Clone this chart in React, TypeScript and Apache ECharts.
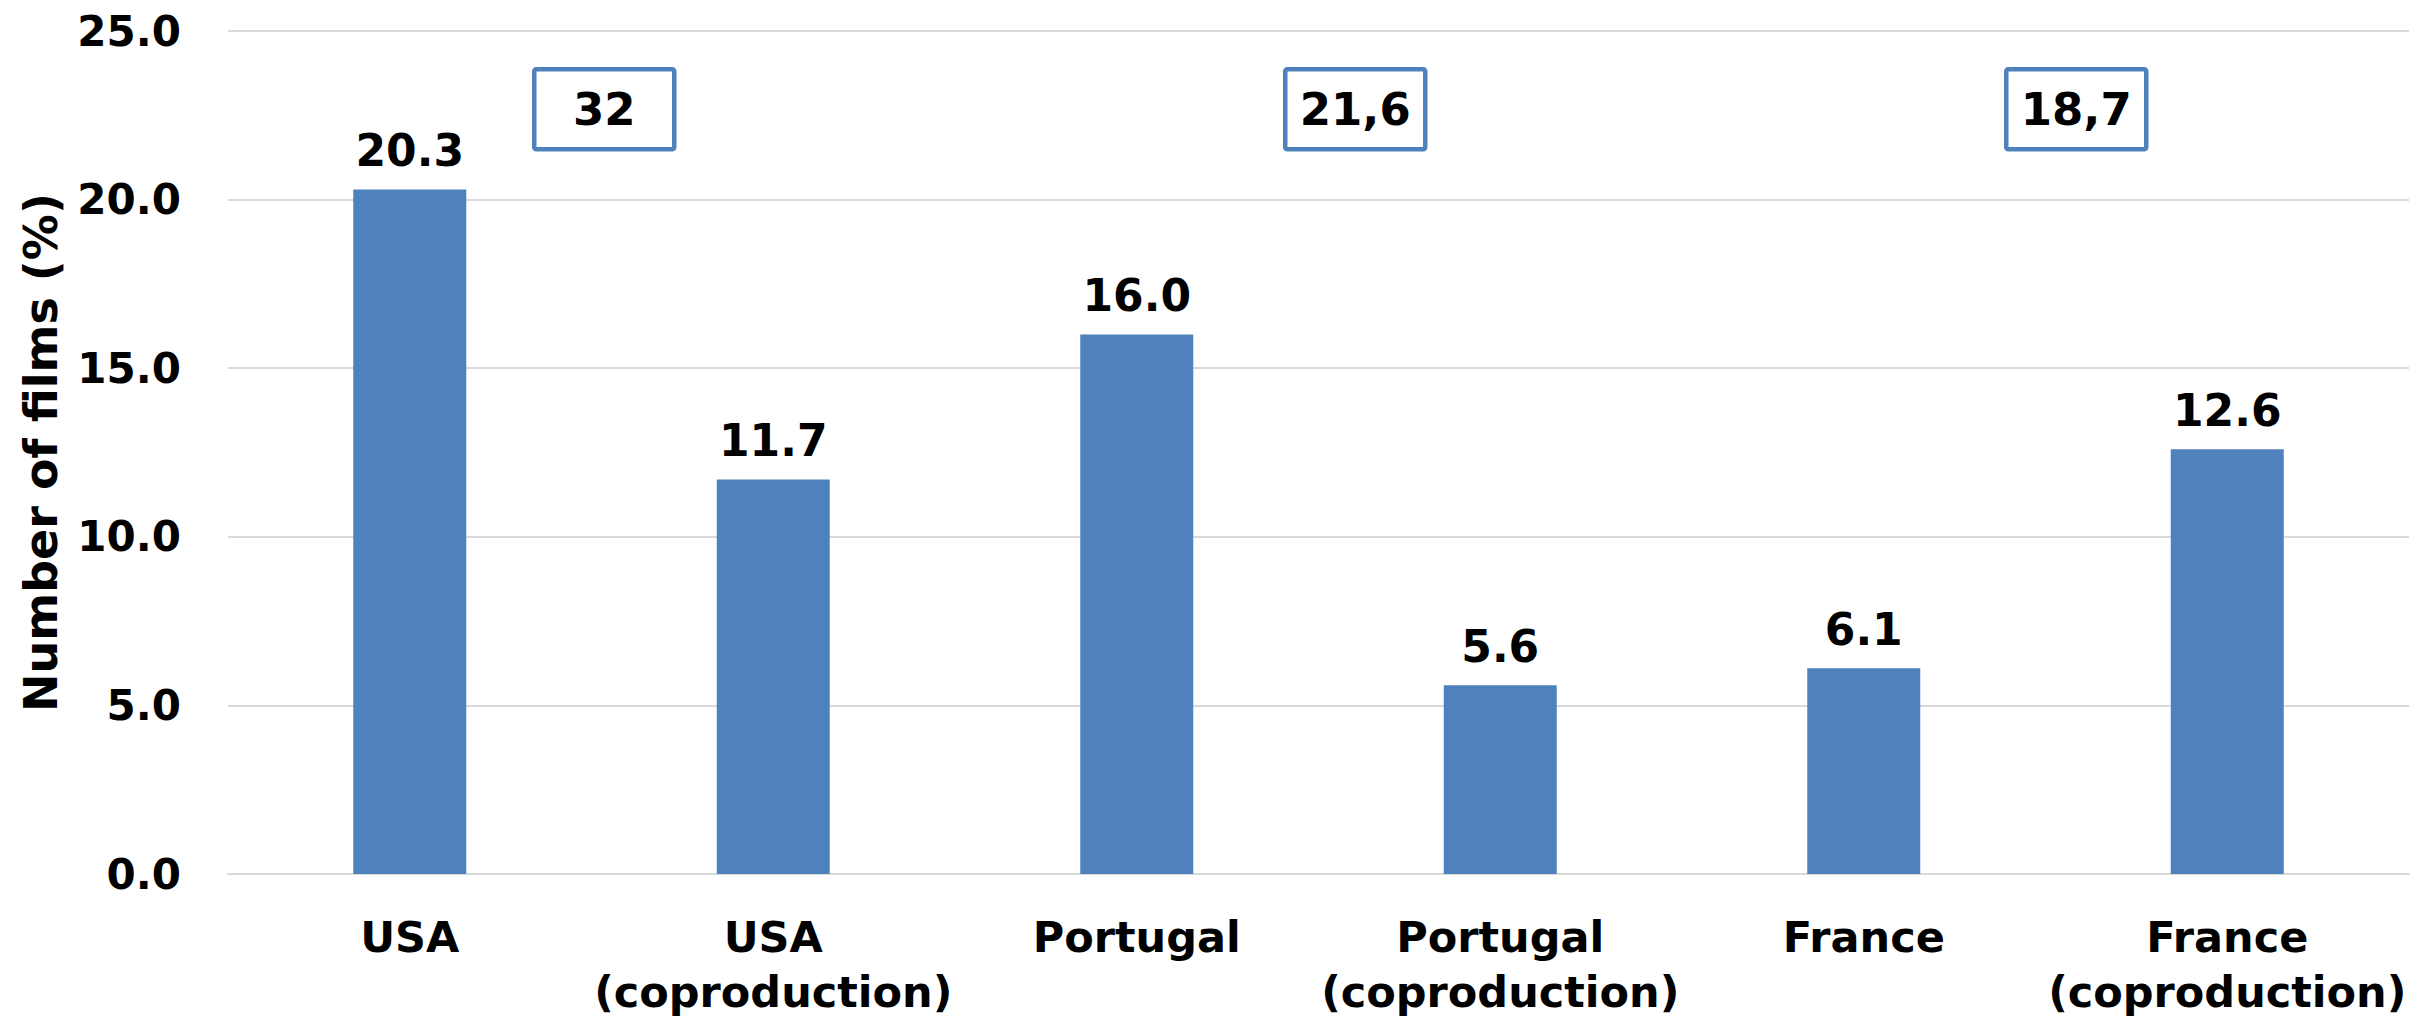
import React, { useEffect, useRef } from "react";
import * as echarts from "echarts";

// Share of films by country of production (%)
const categories: string[] = [
  "USA",
  "USA\n(coproduction)",
  "Portugal",
  "Portugal\n(coproduction)",
  "France",
  "France\n(coproduction)",
];
const filmShares: number[] = [20.3, 11.7, 16.0, 5.6, 6.1, 12.6];

// Combined totals per country, shown in outlined boxes
const totalLabels: string[] = ["32", "21,6", "18,7"];
const totalBoxLeft: number[] = [532, 1283, 2004];

const yTicks = { min: 0, max: 25, interval: 5 };

const FONT = "'DejaVu Sans', sans-serif";
const BLUE = "#4F81BD";

export default function App() {
  const ref = useRef<HTMLDivElement>(null);

  useEffect(() => {
    document.body.style.margin = "0";
    if (!ref.current) return;
    const chart = echarts.init(ref.current, null, { renderer: "svg" });

    const boxW = 140;
    const boxH = 80;
    const boxTop = 67;

    chart.setOption({
      animation: false,
      backgroundColor: "#ffffff",
      grid: { left: 228, right: 23, top: 31, bottom: 143, containLabel: false },
      xAxis: {
        type: "category",
        data: categories,
        axisLine: { show: true, lineStyle: { color: "#D9D9D9", width: 2 } },
        axisTick: { show: false },
        axisLabel: {
          color: "#000",
          fontFamily: FONT,
          fontWeight: "bold",
          fontSize: 43,
          lineHeight: 55,
          margin: 35,
          interval: 0,
        },
      },
      yAxis: {
        type: "value",
        min: yTicks.min,
        max: yTicks.max,
        interval: yTicks.interval,
        name: "Number of films (%)",
        nameLocation: "middle",
        nameGap: 164,
        nameRotate: 90,
        nameTextStyle: {
          color: "#000",
          fontFamily: FONT,
          fontWeight: "bold",
          fontSize: 46,
        },
        axisLine: { show: false },
        axisTick: { show: false },
        splitLine: { lineStyle: { color: "#D9D9D9", width: 2 } },
        axisLabel: {
          color: "#000",
          fontFamily: FONT,
          fontWeight: "bold",
          fontSize: 42,
          margin: 47,
          formatter: (v: number) => v.toFixed(1),
        },
      },
      series: [
        {
          type: "bar",
          data: filmShares,
          barWidth: 113,
          itemStyle: { color: BLUE },
          label: {
            show: true,
            position: "top",
            distance: 17,
            color: "#000",
            fontFamily: FONT,
            fontWeight: "bold",
            fontSize: 44,
            formatter: (p: any) => Number(p.value).toFixed(1),
          },
        },
      ],
      graphic: totalLabels.map((t, i) => ({
        type: "group",
        left: totalBoxLeft[i],
        top: boxTop,
        children: [
          {
            type: "rect",
            shape: { x: 0, y: 0, width: boxW, height: boxH, r: 2 },
            style: { fill: "#fff", stroke: BLUE, lineWidth: 4.5 },
          },
          {
            type: "text",
            x: boxW / 2,
            y: boxH / 2,
            style: {
              text: t,
              fill: "#000",
              font: `bold 45px ${FONT}`,
              align: "center",
              verticalAlign: "middle",
            },
          },
        ],
      })),
    });

    return () => chart.dispose();
  }, []);

  return <div ref={ref} style={{ width: 2432, height: 1019 }} />;
}
